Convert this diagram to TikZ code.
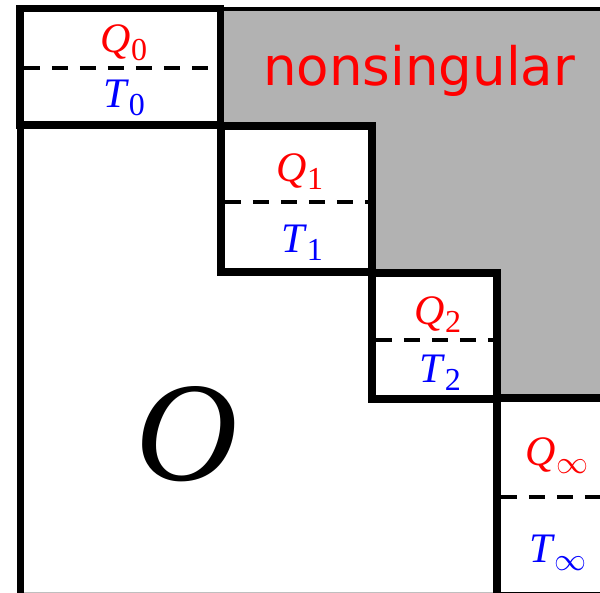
\documentclass[tikz,border=0pt]{standalone}
\usepackage{fix-cm}
\usepackage{fontspec}
\newfontfamily\nsfont{DejaVu Sans}
\newfontfamily\tmsfont{Liberation Serif}
\usetikzlibrary{calc}
\newcommand\subdigit[1]{\raisebox{-8pt}{\fontsize{32}{32}\selectfont #1}}
\newcommand\subinf{\raisebox{-8pt}{\fontsize{32}{32}\selectfont$\infty$}}
\tikzset{
  blockbox/.style={draw=black, fill=white, line width=7.5pt, miter limit=10, inner sep=0pt, outer sep=0pt, anchor=north west},
  divider/.style={draw=black, line width=4pt, dash pattern=on 16pt off 12pt},
  qlabel/.style={text=red, inner sep=0pt, anchor=base, font=\tmsfont\fontsize{42}{42}\selectfont},
  tlabel/.style={text=blue, inner sep=0pt, anchor=base, font=\tmsfont\fontsize{42}{42}\selectfont},
}
\begin{document}
\begin{tikzpicture}[x=1pt,y=-1pt]
\useasboundingbox (0,0) rectangle (600,593);
\begin{scope}
\clip (0,0) rectangle (600,593);
% gray nonsingular region
\fill[black!30] (220,9) -- (600,9) -- (600,398) -- (497,398) -- (497,273) -- (372,273) -- (372,126) -- (220,126) -- cycle;
% outer frame
\draw[line width=4.5pt] (220,9) -- (602,9);
\draw[line width=7pt] (20,125) -- (20,594);
\draw[black!25, line width=1pt] (24,592.5) -- (494,592.5);
% blocks
\node[blockbox, minimum width=200.5pt, minimum height=116.5pt] (b0) at (20,8.5) {};
\node[blockbox, minimum width=151pt, minimum height=146pt] (b1) at (221,126) {};
\node[blockbox, minimum width=125pt, minimum height=126pt] (b2) at (372,273) {};
\node[blockbox, minimum width=112pt, minimum height=197.5pt] (b3) at (497,398) {};
% dividers
\draw[divider] (23.75,68) -- (216.75,68);
\draw[divider] (224.75,202) -- (368.25,202);
\draw[divider] (375.75,340) -- (493.25,340);
\draw[divider] (500.75,497) -- (605,497);
\end{scope}
% labels
\node[qlabel] (q0) at (124,53) {\textit{Q}\subdigit{0}};
\node[tlabel] (t0) at (124,108) {\textit{T}\subdigit{0}};
\node[qlabel] (q1) at (300,182) {\textit{Q}\subdigit{1}};
\node[tlabel] (t1) at (302,253) {\textit{T}\subdigit{1}};
\node[qlabel] (q2) at (438,325) {\textit{Q}\subdigit{2}};
\node[tlabel] (t2) at (440,383) {\textit{T}\subdigit{2}};
\node[qlabel] (q3) at (557,466) {\textit{Q}\subinf};
\node[tlabel] (t3) at (558,562) {\textit{T}\subinf};
\node[inner sep=0pt, anchor=base] (o) at (187,481) {\tmsfont\itshape\fontsize{142}{142}\selectfont O};
\node[text=red, inner sep=0pt, anchor=base west] (ns) at (263,86) {\nsfont\fontsize{53}{53}\selectfont nonsingular};
\end{tikzpicture}
\end{document}
